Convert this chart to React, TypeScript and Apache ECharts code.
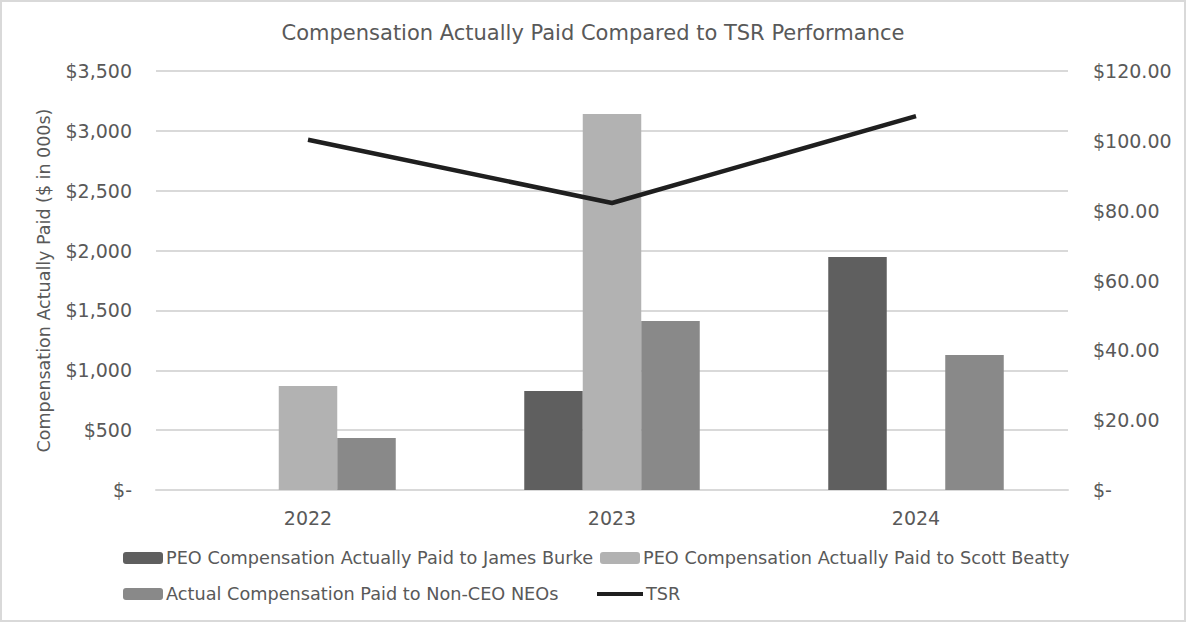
import { useEffect, useRef } from 'react';
import * as echarts from 'echarts';

const years = ['2022', '2023', '2024'];
const burkeCap = [null, 827, 1946];
const beattyCap = [869, 3141, null];
const nonCeoCap = [434, 1412, 1128];
const tsr = [100.3, 82.2, 107.1];

const FONT = '"DejaVu Sans", Verdana, sans-serif';
const TEXT = '#595959';

const leftFmt = (v: number) => (v === 0 ? '$-' : '$' + v.toLocaleString('en-US'));
const rightFmt = (v: number) => (v === 0 ? '$-' : '$' + v.toFixed(2));

const App: React.FC = () => {
  const divRef = useRef<HTMLDivElement | null>(null);

  useEffect(() => {
    if (!divRef.current) return;
    const chart = echarts.init(divRef.current, undefined, { renderer: 'svg' });

    const legendBase = {
      itemWidth: 40,
      itemHeight: 12,
      itemGap: 0,
      textStyle: { color: TEXT, fontSize: 17.7, fontFamily: FONT, padding: [0, 0, 0, -2] },
    };

    chart.setOption({
      animation: false,
      textStyle: { fontFamily: FONT },
      title: {
        text: 'Compensation Actually Paid Compared to TSR Performance',
        left: 'center',
        top: 17,
        textStyle: { color: TEXT, fontSize: 21, fontWeight: 'normal', fontFamily: FONT },
      },
      legend: [
        { ...legendBase, left: 118, top: 544, data: ['PEO Compensation Actually Paid to James Burke'] },
        { ...legendBase, left: 595, top: 544, data: ['PEO Compensation Actually Paid to Scott Beatty'] },
        { ...legendBase, left: 118, top: 580, data: ['Actual Compensation Paid to Non-CEO NEOs'] },
        {
          ...legendBase,
          left: 592,
          top: 580,
          itemWidth: 46,
          data: [{ name: 'TSR', icon: 'path://M0,0 L46,0 L46,4 L0,4 Z' }],
        },
      ],
      grid: { left: 156, right: 118, top: 71, bottom: 132 },
      xAxis: {
        type: 'category',
        data: years,
        axisLine: { lineStyle: { color: '#d9d9d9', width: 2 } },
        axisTick: { show: false },
        axisLabel: { color: TEXT, fontSize: 19, margin: 18, fontFamily: FONT },
      },
      yAxis: [
        {
          type: 'value',
          min: 0,
          max: 3500,
          interval: 500,
          name: 'Compensation Actually Paid ($ in 000s)',
          nameLocation: 'middle',
          nameGap: 103,
          nameTextStyle: { color: TEXT, fontSize: 17.5, fontFamily: FONT },
          axisLabel: { color: TEXT, fontSize: 19, margin: 24, formatter: leftFmt, fontFamily: FONT },
          splitLine: { lineStyle: { color: '#d9d9d9', width: 2 } },
          axisLine: { show: false },
          axisTick: { show: false },
        },
        {
          type: 'value',
          min: 0,
          max: 120,
          interval: 20,
          position: 'right',
          axisLabel: { color: TEXT, fontSize: 19, margin: 25, formatter: rightFmt, fontFamily: FONT },
          splitLine: { show: false },
          axisLine: { show: false },
          axisTick: { show: false },
        },
      ],
      series: [
        {
          name: 'PEO Compensation Actually Paid to James Burke',
          type: 'bar',
          data: burkeCap,
          barWidth: 58.5,
          barGap: '0%',
          itemStyle: { color: '#5f5f5f' },
        },
        {
          name: 'PEO Compensation Actually Paid to Scott Beatty',
          type: 'bar',
          data: beattyCap,
          barWidth: 58.5,
          barGap: '0%',
          itemStyle: { color: '#b2b2b2' },
        },
        {
          name: 'Actual Compensation Paid to Non-CEO NEOs',
          type: 'bar',
          data: nonCeoCap,
          barWidth: 58.5,
          barGap: '0%',
          itemStyle: { color: '#898989' },
        },
        {
          name: 'TSR',
          type: 'line',
          yAxisIndex: 1,
          data: tsr,
          symbol: 'none',
          z: 5,
          itemStyle: { color: '#1f1f1f' },
          lineStyle: { color: '#1f1f1f', width: 4.5 },
        },
      ],
    });

    return () => chart.dispose();
  }, []);

  return (
    <div
      style={{
        position: 'fixed',
        left: 0,
        top: 0,
        width: 1186,
        height: 622,
        boxSizing: 'border-box',
        border: '2px solid #d9d9d9',
        background: '#fff',
      }}
    >
      <div ref={divRef} style={{ position: 'absolute', left: -2, top: -2, width: 1186, height: 622 }} />
    </div>
  );
};

export default App;
